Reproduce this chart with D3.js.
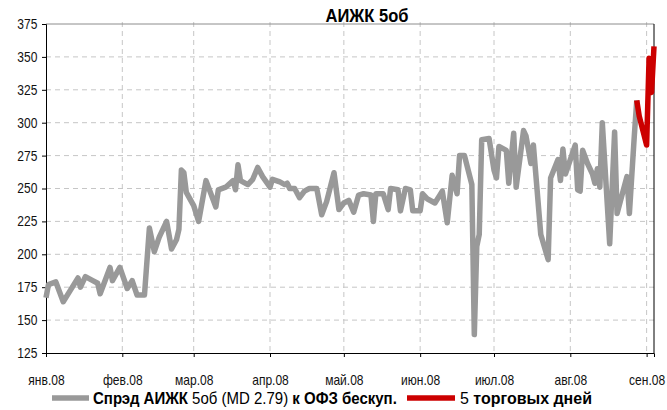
<!DOCTYPE html>
<html>
<head>
<meta charset="utf-8">
<script src="https://cdn.jsdelivr.net/npm/d3@7"></script>
<style>
  html, body { margin: 0; padding: 0; background: #fff; }
  svg { display: block; font-family: "Liberation Sans Narrow", "Arial Narrow", "Liberation Sans", Arial, sans-serif; }
</style>
</head>
<body>
<svg id="chart" width="667" height="410"></svg>
<script>
// ---- data ----
const spreadDates = [
  "2008-01-01","2008-01-02","2008-01-05","2008-01-08","2008-01-11","2008-01-14","2008-01-15","2008-01-17","2008-01-20","2008-01-22",
  "2008-01-23","2008-01-27","2008-01-28","2008-01-31","2008-02-03","2008-02-05","2008-02-07","2008-02-10","2008-02-12","2008-02-14",
  "2008-02-16","2008-02-19","2008-02-21","2008-02-23","2008-02-24","2008-02-25","2008-02-26","2008-02-27","2008-03-01","2008-03-03",
  "2008-03-06","2008-03-10","2008-03-11","2008-03-14","2008-03-17","2008-03-18","2008-03-19","2008-03-20","2008-03-23","2008-03-25",
  "2008-03-27","2008-03-29","2008-04-01","2008-04-02","2008-04-05","2008-04-07","2008-04-08","2008-04-09","2008-04-11","2008-04-13",
  "2008-04-15","2008-04-17","2008-04-20","2008-04-22","2008-04-24","2008-04-27","2008-04-29","2008-05-01","2008-05-03","2008-05-05",
  "2008-05-07","2008-05-09","2008-05-12","2008-05-13","2008-05-14","2008-05-17","2008-05-19","2008-05-20","2008-05-23","2008-05-24",
  "2008-05-26","2008-05-28","2008-05-29","2008-06-01","2008-06-02","2008-06-04","2008-06-07","2008-06-09","2008-06-10","2008-06-12",
  "2008-06-14","2008-06-16","2008-06-17","2008-06-19","2008-06-22","2008-06-23","2008-06-24","2008-06-25","2008-06-26","2008-06-29",
  "2008-07-01","2008-07-02","2008-07-03","2008-07-06","2008-07-07","2008-07-09","2008-07-10","2008-07-13","2008-07-14","2008-07-16",
  "2008-07-17","2008-07-20","2008-07-23","2008-07-24","2008-07-27","2008-07-28","2008-07-29","2008-07-30","2008-08-03","2008-08-04",
  "2008-08-05","2008-08-06","2008-08-08","2008-08-10","2008-08-11","2008-08-12","2008-08-13","2008-08-14","2008-08-17","2008-08-19",
  "2008-08-20","2008-08-24","2008-08-25","2008-08-27","2008-08-28"
];
const spreadValues = [
  167,177,179,164,173,182,175,183,180,178,
  170,190,180,190,174,180,169,169,220,202,
  213,225,204,211,219,264,262,247,237,225,
  256,236,249,251,256,249,268,256,253,257,
  266,259,251,257,255,253,254,250,250,243,
  248,250,250,230,240,262,234,239,241,232,
  245,246,245,225,246,246,234,250,249,233,
  250,249,233,233,246,242,239,245,248,224,
  260,246,275,275,253,139,206,215,287,288,
  264,258,282,279,254,292,251,294,290,269,
  283,215,196,258,272,256,280,261,283,249,
  248,279,269,261,254,265,251,300,208,293,
  231,259,231,290,317
];
const lastDates  = ["2008-08-28","2008-08-29","2008-09-01","2008-09-02","2008-09-03","2008-09-04"];
const lastValues = [317, 305, 283, 349, 323, 358];

const yTicks = [125,150,175,200,225,250,275,300,325,350,375];
const monthTicks = ["2008-01-01","2008-02-01","2008-03-01","2008-04-01","2008-05-01","2008-06-01","2008-07-01","2008-08-01","2008-09-01"];
const monthLabels = ["янв.08","фев.08","мар.08","апр.08","май.08","июн.08","июл.08","авг.08","сен.08"];
const titleText = "АИЖК 5об";
const xDomain = ["2008-01-01","2008-09-04"];

// ---- chart ----
const parse = d3.timeParse("%Y-%m-%d");
const svg = d3.select("#chart");
const mL = 46, mR = 654, mT = 24, mB = 353;
const narrow = 0.86;

const x = d3.scaleTime().domain(xDomain.map(parse)).range([mL, mR]);
const y = d3.scaleLinear().domain([125, 375]).range([mB, mT]);

const gridColor = "#c6c6c6";
svg.append("g").selectAll("line").data(yTicks.filter(v => v > 125 && v < 375)).join("line")
  .attr("x1", mL).attr("x2", mR)
  .attr("y1", d => y(d)).attr("y2", d => y(d))
  .attr("stroke", gridColor).attr("stroke-width", 1).attr("stroke-dasharray", "5,4");
svg.append("g").selectAll("line").data(monthTicks.slice(1)).join("line")
  .attr("x1", d => x(parse(d))).attr("x2", d => x(parse(d)))
  .attr("y1", mT - 2).attr("y2", mB)
  .attr("stroke", gridColor).attr("stroke-width", 1).attr("stroke-dasharray", "5,4");
svg.append("line").attr("x1", mL).attr("x2", mR).attr("y1", y(375)).attr("y2", y(375))
  .attr("stroke", "#8c8c8c").attr("stroke-width", 1);
svg.append("line").attr("x1", mR).attr("x2", mR).attr("y1", mT).attr("y2", mB)
  .attr("stroke", "#000").attr("stroke-width", 1);

const axisFont = '"Liberation Sans Narrow", "Liberation Sans", sans-serif';
const yAxis = d3.axisLeft(y).tickValues(yTicks).tickSize(4).tickPadding(6);
const gy = svg.append("g").attr("transform", `translate(${mL},0)`).call(yAxis);
gy.select(".domain").attr("stroke", "#000");
gy.selectAll(".tick line").attr("stroke", "#000");
gy.selectAll("text").attr("font-size", 14).attr("fill", "#111").attr("font-family", axisFont)
  .attr("transform", `scale(${narrow},1)`);

const xAxis = d3.axisBottom(x).tickValues(monthTicks.map(parse))
  .tickFormat((d, i) => monthLabels[i]).tickSize(4).tickPadding(18);
const gx = svg.append("g").attr("transform", `translate(0,${mB})`).call(xAxis);
gx.select(".domain").attr("stroke", "#000");
gx.selectAll(".tick line").attr("stroke", "#000");
gx.selectAll("text").attr("font-size", 14).attr("fill", "#111").attr("font-family", axisFont)
  .attr("transform", `scale(${narrow},1)`);

const line = d3.line().x(d => x(d.date)).y(d => y(d.value)).curve(d3.curveLinear);
const spread = spreadDates.map((d, i) => ({ date: parse(d), value: spreadValues[i] }));
const last = lastDates.map((d, i) => ({ date: parse(d), value: lastValues[i] }));

svg.append("path").datum(spread).attr("d", line)
  .attr("fill", "none").attr("stroke", "#999999").attr("stroke-width", 5.5)
  .attr("stroke-linejoin", "round").attr("stroke-linecap", "butt");
svg.append("path").datum(last).attr("d", line)
  .attr("fill", "none").attr("stroke", "#cc0000").attr("stroke-width", 5.5)
  .attr("stroke-linejoin", "round").attr("stroke-linecap", "butt");

// title
const tg = svg.append("g").attr("transform", `translate(367,22) scale(${narrow + 0.06},1)`);
tg.append("text").attr("x", 0).attr("y", 0).attr("text-anchor", "middle")
  .attr("font-size", 18).attr("font-weight", "bold").attr("fill", "#000").text(titleText);

// legend
const ly = 398;
const leg = svg.append("g");
leg.append("line").attr("x1", 52).attr("x2", 89).attr("y1", ly).attr("y2", ly)
  .attr("stroke", "#999999").attr("stroke-width", 5.5);
const g1 = leg.append("g");
const t1 = g1.append("text").attr("x", 0).attr("y", 0).attr("font-size", 16).attr("fill", "#000");
t1.append("tspan").attr("font-weight", "bold").text("Спрэд АИЖК");
t1.append("tspan").text(" 5об (MD 2.79) ");
t1.append("tspan").attr("font-weight", "bold").text("к ОФЗ бескуп.");
const w1 = t1.node().getComputedTextLength();
g1.attr("transform", `translate(93,${ly + 6}) scale(${304 / w1},1)`);
leg.append("line").attr("x1", 407).attr("x2", 455).attr("y1", ly).attr("y2", ly)
  .attr("stroke", "#cc0000").attr("stroke-width", 5.5);
const g2 = leg.append("g");
const t2 = g2.append("text").attr("x", 0).attr("y", 0).attr("font-size", 16).attr("fill", "#000");
t2.append("tspan").text("5 ");
t2.append("tspan").attr("font-weight", "bold").text("торговых дней");
const w2 = t2.node().getComputedTextLength();
g2.attr("transform", `translate(460,${ly + 6}) scale(${132 / w2},1)`);
</script>
</body>
</html>
